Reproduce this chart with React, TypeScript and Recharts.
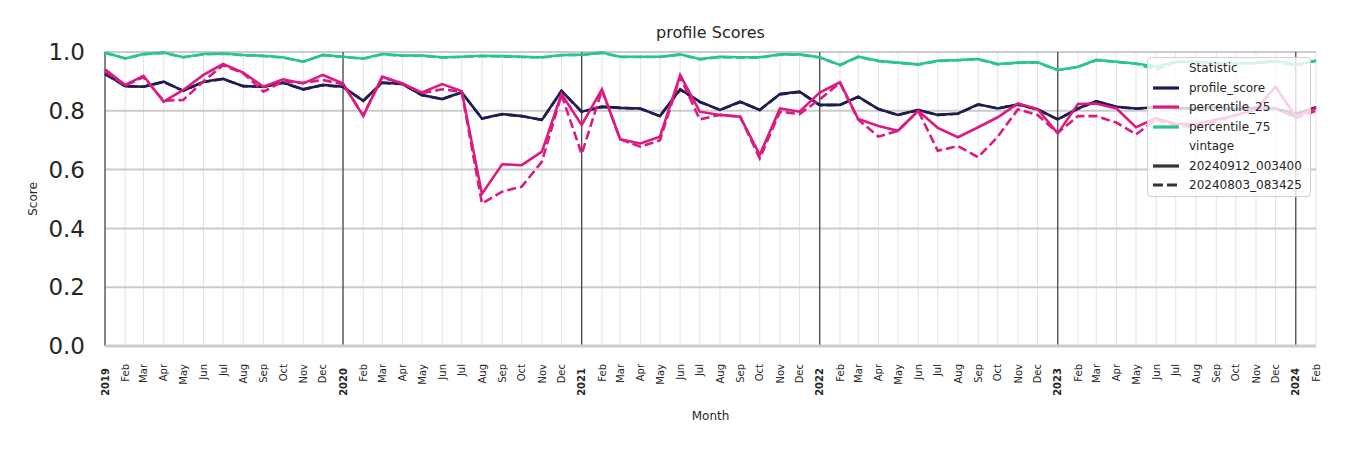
import React from 'react';
import { LineChart, Line, XAxis, YAxis, CartesianGrid, ReferenceLine } from 'recharts';

// ---- categories / tick labels ----
const startYear = 2019;
const monthAbbr = ['Jan', 'Feb', 'Mar', 'Apr', 'May', 'Jun', 'Jul', 'Aug', 'Sep', 'Oct', 'Nov', 'Dec'];
const yearLabels = ['2019', '2020', '2021', '2022', '2023', '2024'];
const yTicks = [0, 0.2, 0.4, 0.6, 0.8, 1.0];

// ---- series (Jan 2019 .. Feb 2024, monthly) ----
const profileScoreNew = [
  0.927, 0.884, 0.882, 0.899, 0.868, 0.899, 0.909, 0.884, 0.882, 0.896, 0.873, 0.888,
  0.882, 0.834, 0.896, 0.891, 0.854, 0.840, 0.863, 0.774, 0.789, 0.782, 0.769, 0.868,
  0.797, 0.814, 0.810, 0.808, 0.782, 0.873, 0.831, 0.803, 0.831, 0.803, 0.857, 0.865,
  0.820, 0.820, 0.848, 0.806, 0.786, 0.803, 0.786, 0.791, 0.822, 0.808, 0.822, 0.805,
  0.771, 0.808, 0.833, 0.814, 0.808, 0.812, 0.810, 0.808, 0.812, 0.806, 0.810, 0.808,
  0.790, 0.812,
];
const profileScoreOld = [
  0.925, 0.884, 0.882, 0.898, 0.868, 0.898, 0.908, 0.884, 0.882, 0.895, 0.873, 0.887,
  0.881, 0.834, 0.895, 0.891, 0.853, 0.840, 0.862, 0.774, 0.788, 0.782, 0.769, 0.867,
  0.796, 0.813, 0.810, 0.807, 0.782, 0.872, 0.830, 0.803, 0.830, 0.803, 0.856, 0.864,
  0.819, 0.820, 0.847, 0.806, 0.786, 0.802, 0.786, 0.790, 0.821, 0.808, 0.821, 0.805,
  0.770, 0.807, 0.832, 0.813, 0.807, 0.811, 0.809, 0.807, 0.811, 0.805, 0.809, 0.807,
  0.780, 0.810,
];
const p25New = [
  0.941, 0.888, 0.919, 0.831, 0.871, 0.922, 0.959, 0.930, 0.882, 0.907, 0.893, 0.922,
  0.893, 0.782, 0.916, 0.893, 0.862, 0.891, 0.867, 0.517, 0.618, 0.615, 0.661, 0.857,
  0.752, 0.873, 0.703, 0.689, 0.712, 0.922, 0.797, 0.786, 0.780, 0.650, 0.808, 0.797,
  0.862, 0.897, 0.772, 0.748, 0.732, 0.800, 0.742, 0.710, 0.744, 0.778, 0.825, 0.806,
  0.723, 0.823, 0.825, 0.808, 0.744, 0.775, 0.755, 0.755, 0.770, 0.785, 0.805, 0.882,
  0.780, 0.810,
];
const p25Old = [
  0.935, 0.886, 0.915, 0.834, 0.837, 0.900, 0.955, 0.928, 0.865, 0.900, 0.895, 0.905,
  0.890, 0.785, 0.913, 0.893, 0.860, 0.873, 0.865, 0.485, 0.525, 0.542, 0.627, 0.855,
  0.653, 0.870, 0.703, 0.678, 0.700, 0.915, 0.771, 0.786, 0.780, 0.638, 0.797, 0.789,
  0.839, 0.895, 0.770, 0.712, 0.732, 0.800, 0.664, 0.680, 0.642, 0.712, 0.805, 0.786,
  0.725, 0.782, 0.782, 0.760, 0.720, 0.770, 0.750, 0.745, 0.765, 0.785, 0.805, 0.810,
  0.775, 0.800,
];
const p75New = [
  0.998, 0.978, 0.993, 0.998, 0.982, 0.993, 0.995, 0.990, 0.987, 0.982, 0.967, 0.990,
  0.984, 0.978, 0.993, 0.988, 0.988, 0.982, 0.984, 0.987, 0.986, 0.984, 0.982, 0.990,
  0.991, 0.998, 0.984, 0.984, 0.984, 0.992, 0.976, 0.984, 0.982, 0.982, 0.992, 0.992,
  0.982, 0.956, 0.984, 0.970, 0.964, 0.958, 0.970, 0.973, 0.976, 0.959, 0.964, 0.965,
  0.939, 0.950, 0.973, 0.967, 0.961, 0.950, 0.967, 0.967, 0.961, 0.961, 0.963, 0.970,
  0.956, 0.971,
];
const p75Old = [
  0.997, 0.978, 0.992, 0.997, 0.982, 0.992, 0.994, 0.989, 0.986, 0.981, 0.967, 0.989,
  0.983, 0.977, 0.992, 0.987, 0.987, 0.981, 0.983, 0.986, 0.985, 0.983, 0.981, 0.989,
  0.990, 0.997, 0.983, 0.983, 0.983, 0.991, 0.975, 0.983, 0.981, 0.981, 0.991, 0.991,
  0.981, 0.955, 0.983, 0.969, 0.963, 0.957, 0.969, 0.972, 0.975, 0.958, 0.963, 0.964,
  0.938, 0.949, 0.972, 0.966, 0.960, 0.940, 0.966, 0.966, 0.960, 0.960, 0.962, 0.969,
  0.955, 0.970,
];

const NAVY = '#1e1c51';
const PINK = '#db1b82';
const GREEN = '#2ac391';
const TEXT = '#262626';
const FONT = '"DejaVu Sans", sans-serif';

const DAY = 86400000;
const monthDay = (i: number) => Date.UTC(startYear + Math.floor(i / 12), i % 12, 1) / DAY;

const data = profileScoreNew.map((v, i) => ({
  t: monthDay(i),
  psNew: v,
  psOld: profileScoreOld[i],
  p25New: p25New[i],
  p25Old: p25Old[i],
  p75New: p75New[i],
  p75Old: p75Old[i],
}));
const xTicks = data.map((d) => d.t);
const yearTicks = xTicks.filter((_, i) => i % 12 === 0);
const tickIndex = new Map<number, number>(xTicks.map((t, i) => [t, i]));

const XTick = (props: any) => {
  const { x, y, payload } = props;
  const i = tickIndex.get(payload.value) ?? 0;
  const isYear = i % 12 === 0;
  const label = isYear ? yearLabels[Math.floor(i / 12)] : monthAbbr[i % 12];
  const top = y + (isYear ? 22 : 18);
  return (
    <text
      transform={`translate(${x},${top}) rotate(-90)`}
      textAnchor="end"
      dy="0.36em"
      fontSize={10}
      fontWeight={isYear ? 'bold' : 'normal'}
      fill={TEXT}
      fontFamily={FONT}
    >
      {label}
    </text>
  );
};

const legendRows: { label: string; color?: string; dash?: boolean; header?: boolean }[] = [
  { label: 'Statistic', header: true },
  { label: 'profile_score', color: NAVY },
  { label: 'percentile_25', color: PINK },
  { label: 'percentile_75', color: GREEN },
  { label: 'vintage', header: true },
  { label: '20240912_003400', color: '#333333' },
  { label: '20240803_083425', color: '#333333', dash: true },
];

export default function App() {
  const lineProps = { type: 'linear' as const, dot: false, strokeWidth: 2.6, isAnimationActive: false };
  return (
    <div style={{ position: 'absolute', left: 0, top: 0, width: 1350, height: 450, fontFamily: FONT }}>
      <LineChart width={1350} height={450} data={data} margin={{ top: 52, right: 34, left: 30, bottom: 0 }}>
        <CartesianGrid horizontal={false} vertical={true} stroke="#e4e4e4" strokeWidth={1} />
        <CartesianGrid horizontal={true} vertical={false} stroke="#cbcbcb" strokeWidth={2} />
        <XAxis
          dataKey="t"
          type="number"
          scale="linear"
          domain={[xTicks[0], xTicks[xTicks.length - 1]]}
          ticks={xTicks}
          interval={0}
          height={104}
          tickSize={0}
          tickMargin={0}
          tickLine={false}
          axisLine={{ stroke: '#cccccc', strokeWidth: 3 }}
          tick={<XTick />}
          label={{
            value: 'Month',
            position: 'insideBottom',
            offset: 30,
            fontSize: 12,
            fill: TEXT,
            fontFamily: FONT,
          }}
        />
        <YAxis
          type="number"
          domain={[0, 1]}
          ticks={yTicks}
          width={75}
          axisLine={false}
          tickLine={false}
          tickSize={0}
          tickMargin={20}
          tickFormatter={(v: number) => v.toFixed(1)}
          tick={{ fontSize: 23, fill: TEXT, fontFamily: FONT }}
          label={{
            content: (p: any) => {
              const vb = p.viewBox || { x: 30, y: 52, width: 75, height: 294 };
              const cx = vb.x + 3;
              const cy = vb.y + vb.height / 2;
              return (
                <text
                  transform={`translate(${cx},${cy}) rotate(-90)`}
                  textAnchor="middle"
                  dy="0.36em"
                  fontSize={12}
                  fill={TEXT}
                  fontFamily={FONT}
                >
                  Score
                </text>
              );
            },
          }}
        />
        {yearTicks.map((t) => (
          <ReferenceLine key={t} x={t} stroke="#3c3c3c" strokeWidth={1.2} ifOverflow="extendDomain" />
        ))}
        <Line {...lineProps} dataKey="psNew" stroke={NAVY} />
        <Line {...lineProps} dataKey="psOld" stroke={NAVY} strokeDasharray="9 4" />
        <Line {...lineProps} dataKey="p25New" stroke={PINK} />
        <Line {...lineProps} dataKey="p25Old" stroke={PINK} strokeDasharray="9 4" />
        <Line {...lineProps} dataKey="p75New" stroke={GREEN} />
        <Line {...lineProps} dataKey="p75Old" stroke={GREEN} strokeDasharray="9 4" />
      </LineChart>

      <div
        style={{
          position: 'absolute',
          left: 105,
          width: 1211,
          top: 23,
          lineHeight: '20px',
          textAlign: 'center',
          fontSize: 16,
          color: TEXT,
          fontFamily: FONT,
        }}
      >
        profile Scores
      </div>

      <div
        style={{
          position: 'absolute',
          left: 1147,
          top: 57,
          width: 164,
          height: 140,
          boxSizing: 'border-box',
          background: 'rgba(255,255,255,0.8)',
          border: '1px solid #d0d0d0',
          borderRadius: 4,
        }}
      >
        {legendRows.map((r, i) => (
          <div
            key={r.label}
            style={{
              position: 'absolute',
              left: 0,
              top: 11 + i * 19.5 - 10 - 1,
              height: 20,
              width: 162,
              display: 'flex',
              alignItems: 'center',
            }}
          >
            <svg width={41} height={20} style={{ flex: 'none' }}>
              {r.header ? null : (
                <line
                  x1={5}
                  x2={31}
                  y1={10}
                  y2={10}
                  stroke={r.color}
                  strokeWidth={3.2}
                  strokeDasharray={r.dash ? '10 4' : undefined}
                />
              )}
            </svg>
            <span style={{ fontSize: 12, color: TEXT, fontFamily: FONT, whiteSpace: 'nowrap' }}>{r.label}</span>
          </div>
        ))}
      </div>
    </div>
  );
}
